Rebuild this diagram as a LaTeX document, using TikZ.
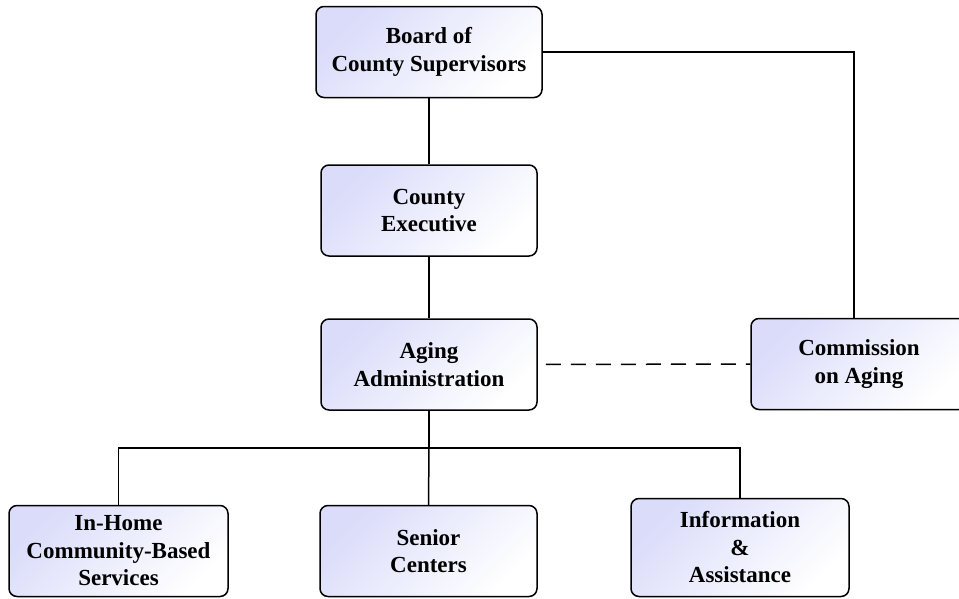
\documentclass[tikz,border=0pt]{standalone}
\usepackage{fontspec}
\setmainfont{Liberation Serif}
\usepackage{tikz}
\usetikzlibrary{calc}
\usetikzlibrary{shapes,positioning}
\definecolor{boxlav}{RGB}{218,220,250}
\newcommand{\orgfont}{\fontsize{23}{27.5}\selectfont\bfseries}
\tikzset{
  orgbox/.style={draw=black,line width=1.5pt,rounded corners=8pt,
    shading=axis,top color=boxlav,bottom color=white,shading angle=45,
    minimum width=216pt,minimum height=91pt,align=center,
    inner sep=2pt,font=\orgfont},
  link/.style={line width=1.5pt},
}
\begin{document}
\begin{tikzpicture}[x=1pt,y=-1pt]
        \useasboundingbox (0,0) rectangle (959,598);
        % top of the chart
        \node[orgbox,minimum width=226pt] (board) at (429,52) {Board of\\County Supervisors};
        \node[orgbox] (exec)  at (429,210.5) {County\\Executive};
        \node[orgbox] (aging) at (429,364.5) {Aging\\Administration};
        \node[orgbox,minimum width=216pt] (comm) at (859,364) {Commission\\on Aging};
        % programs
        \node[orgbox,minimum width=219pt] (inhome) at (118.5,551) {In-Home\\Community-Based\\Services};
        \node[orgbox,minimum width=217pt] (senior) at (428.5,551) {Senior\\Centers};
        \node[orgbox,minimum width=218pt,minimum height=98pt] (info) at (740,547.5) {Information\\\&\\Assistance};
        \coordinate (bus) at (429,448);
        \draw[link] (board) -- (exec);
        \draw[link] (exec) -- (aging);
        \draw[link] (board.east) -| (comm.north -| 854,0);
        \draw[link,dash pattern=on 15pt off 10pt,dash phase=-8pt] (aging.east) -- (comm.west);
        \draw[link] (aging.south) -- (bus);
        \draw[link] (inhome.north) |- (bus) -| (info.north);
        \draw[link] (bus) -- (senior.north);
      \end{tikzpicture}
\end{document}
